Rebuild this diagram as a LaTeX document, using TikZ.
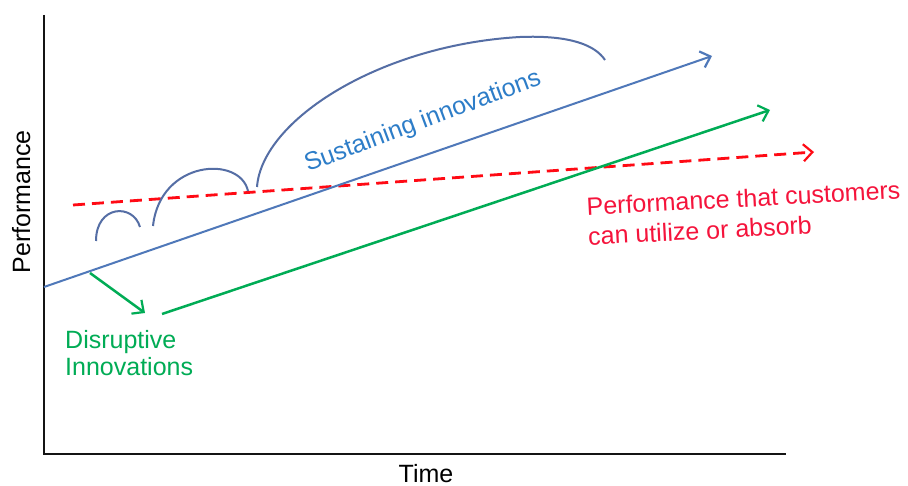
\documentclass[tikz,border=0pt]{standalone}
\usepackage{fontspec}
\setmainfont{Liberation Sans}
\usetikzlibrary{arrows.meta}
\definecolor{axisblack}{RGB}{20,20,20}
\definecolor{sblue}{RGB}{79,120,185}
\definecolor{arcblue}{RGB}{85,110,165}
\definecolor{stext}{RGB}{45,125,200}
\definecolor{dgreen}{RGB}{0,172,85}
\definecolor{cred}{RGB}{255,10,20}
\definecolor{credtext}{RGB}{245,20,60}
\tikzset{
  lbl/.style={inner sep=0pt, font=\fontsize{25}{27}\selectfont},
  axisline/.style={draw=axisblack, line width=2.6pt},
  barb/.style={-{Straight Barb[length=9pt, width=17pt, line width=2.2pt]}},
  sustline/.style={draw=sblue, line width=2pt, barb},
  arcline/.style={draw=arcblue, line width=2pt},
  disline/.style={draw=dgreen, line width=2.5pt, barb},
  custline/.style={draw=cred, line width=2.8pt, dash pattern=on 12pt off 7pt, barb},
}
\begin{document}
\begin{tikzpicture}[x=1pt,y=-1pt]
\useasboundingbox (0,0) rectangle (908,486);
\fill[white] (0,0) rectangle (908,486);
% axes
\coordinate (ytop) at (44,15);
\coordinate (orig) at (44,454);
\coordinate (xend) at (786,454);
\draw[axisline] (ytop) -- (orig) -- (xend);
\node[lbl, rotate=90, anchor=base] (ylab) at (30,202) {Performance};
\node[lbl, anchor=base] (xlab) at (426,482) {Time};
% customer performance (red dashed)
\coordinate (r0) at (73,205);
\coordinate (r1) at (814,152);
\draw[custline] (r0) -- (r1);
% sustaining line
\coordinate (b0) at (44,287);
\coordinate (b1) at (712,56);
\draw[sustline] (b0) -- (b1);
% disruptive
\coordinate (g0) at (90,273);
\coordinate (g1) at (145,313);
\draw[disline] (g0) -- (g1);
\coordinate (h0) at (162,314);
\coordinate (h1) at (770,110);
\draw[disline] (h0) -- (h1);
% arcs
\coordinate (a0) at (96,241);
\coordinate (a1) at (140,227);
\draw[arcline] (a0) .. controls (96,205) and (133,203) .. (a1);
\coordinate (m0) at (153,226);
\coordinate (m1) at (248,191);
\draw[arcline] (m0) .. controls (160,160) and (240,155) .. (m1);
\coordinate (l0) at (257,187);
\coordinate (lm) at (520,37);
\coordinate (l1) at (605,60);
\draw[arcline] (l0) .. controls (262,120) and (380,45) .. (lm) .. controls (570,35) and (595,45) .. (l1);
% labels
\node[lbl, text=stext, rotate=20.5] (sust) at (423,122) {Sustaining innovations};
\node[lbl, text=dgreen, align=left, anchor=north west] (disr) at (65,330) {Disruptive\\Innovations};
\node[lbl, text=credtext, align=left, anchor=north west, rotate=3,
      font=\fontsize{25}{30}\selectfont] (cust) at (586,197) {Performance that customers\\can utilize or absorb};
\end{tikzpicture}
\end{document}
